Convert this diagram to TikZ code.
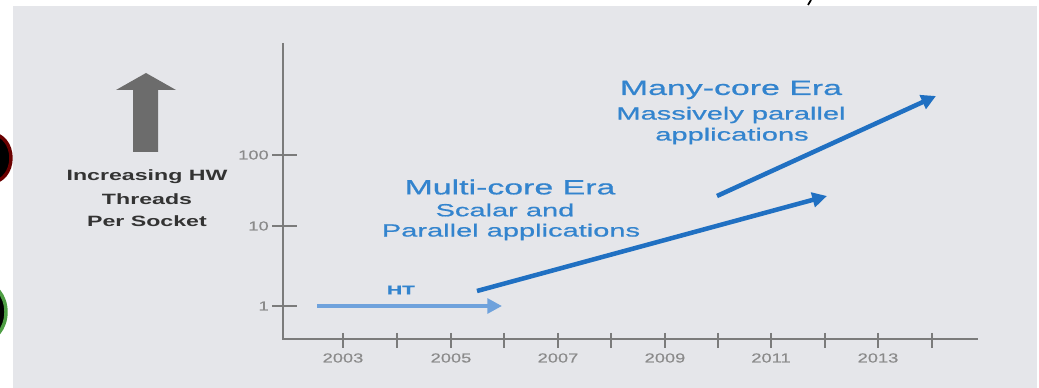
\documentclass[tikz,border=0pt]{standalone}
\usepackage{fontspec}
\setmainfont{Liberation Sans}
\newfontfamily\widef[FakeStretch=1.65,FakeBold=0.8]{Liberation Sans}
\newfontfamily\leftf[FakeStretch=1.55]{Liberation Sans}
\newfontfamily\tickf[FakeStretch=1.4,FakeBold=0.4]{Liberation Sans}
\usetikzlibrary{arrows.meta}
\definecolor{panel}{HTML}{E5E6EA}
\definecolor{axisgray}{HTML}{7B7B7B}
\definecolor{ticktext}{HTML}{8A8A8A}
\definecolor{bluetext}{HTML}{3384CE}
\definecolor{darkblue}{HTML}{2070C2}
\definecolor{lightblue}{HTML}{6FA2DC}
\definecolor{biggray}{HTML}{6C6C6C}
\definecolor{ringred}{HTML}{6A0000}
\definecolor{ringgreen}{HTML}{4E9E44}
\tikzset{
  titletext/.style={text=bluetext, inner sep=0pt, font=\widef\fontsize{15.4pt}{17pt}\selectfont},
  subtext/.style={text=bluetext, inner sep=0pt, font=\widef\fontsize{13.2pt}{15pt}\selectfont},
  lefttext/.style={text=black!80, inner sep=0pt, font=\leftf\bfseries\fontsize{11.2pt}{13pt}\selectfont},
  ticklabel/.style={text=ticktext, inner sep=0pt, font=\tickf\fontsize{9.8pt}{11pt}\selectfont},
  axisline/.style={draw=axisgray, line width=2.2pt},
  tickline/.style={draw=axisgray, line width=1.3pt},
  eraarrow/.style={draw=darkblue, line width=3.4pt, -{Triangle[length=11pt,width=11pt]}},
  htarrow/.style={draw=lightblue, line width=3pt, -{Triangle[length=11pt,width=11pt]}},
}
\begin{document}
\begin{tikzpicture}[x=0.75pt,y=-0.75pt]
\useasboundingbox (0,0) rectangle (1039,388);
\clip (0,0) rectangle (1039,388);
% partial circles at the left edge
\draw[ringred, line width=2.6pt, fill=black] (-8,158) ellipse [x radius=19, y radius=24];
\draw[ringgreen, line width=2.6pt, fill=black] (-19,312) ellipse [x radius=25, y radius=30];
% panel
\fill[panel] (13,6) rectangle (1037,388);
% fragment at top
\draw[black, line width=1.3pt] (808,5) -- (811,0);
% big gray arrow
\fill[biggray] (133,152) -- (158,152) -- (158,90) -- (176,90) -- (146,73) -- (116,90) -- (133,90) -- cycle;
\node[lefttext] (l1) at (147,177) {Increasing HW};
\node[lefttext] (l2) at (147,199) {Threads};
\node[lefttext] (l3) at (147,221) {Per Socket};
% axes
\coordinate (ytop) at (283,43);
\coordinate (origin) at (283,339);
\coordinate (xend) at (978,339);
\draw[axisline] (ytop) -- (origin) -- (xend);
% y ticks
\foreach \yy/\lab/\nm in {155/100/ya, 226/10/yb, 306/1/yc}{
  \draw[tickline] (272,\yy) -- (297,\yy);
  \node[ticklabel, anchor=east] (\nm) at (269,\yy) {\lab};
}
% x ticks
\foreach \xx in {343,397,451,504,558,611,665,718,771,825,878,932}{
  \draw[tickline] (\xx,333) -- (\xx,348);
}
\foreach \xx/\lab in {343/2003,451/2005,558/2007,665/2009,771/2011,878/2013}{
  \node[ticklabel] (x\lab) at (\xx,358) {\lab};
}
% HT arrow
\coordinate (htS) at (317,306);
\coordinate (htE) at (502,306);
\draw[htarrow] (htS) -- (htE);
\node[text=bluetext, inner sep=0pt, font=\widef\bfseries\fontsize{9.5pt}{11pt}\selectfont] (ht) at (401,290) {HT};
% multi-core arrow
\coordinate (mcS) at (477,291);
\coordinate (mcE) at (827,196);
\draw[eraarrow] (mcS) -- (mcE);
% many-core arrow
\coordinate (mnS) at (717,196);
\coordinate (mnE) at (936,96);
\draw[eraarrow] (mnS) -- (mnE);
% labels
\node[titletext] (mn1) at (731,90) {Many-core Era};
\node[subtext] (mn2) at (731,115) {Massively parallel};
\node[subtext] (mn3) at (732,136) {applications};
\node[titletext] (mc1) at (510,187) {Multi-core Era};
\node[subtext] (mc2) at (505,210) {Scalar and};
\node[subtext] (mc3) at (511,232) {Parallel applications};
\end{tikzpicture}
\end{document}
